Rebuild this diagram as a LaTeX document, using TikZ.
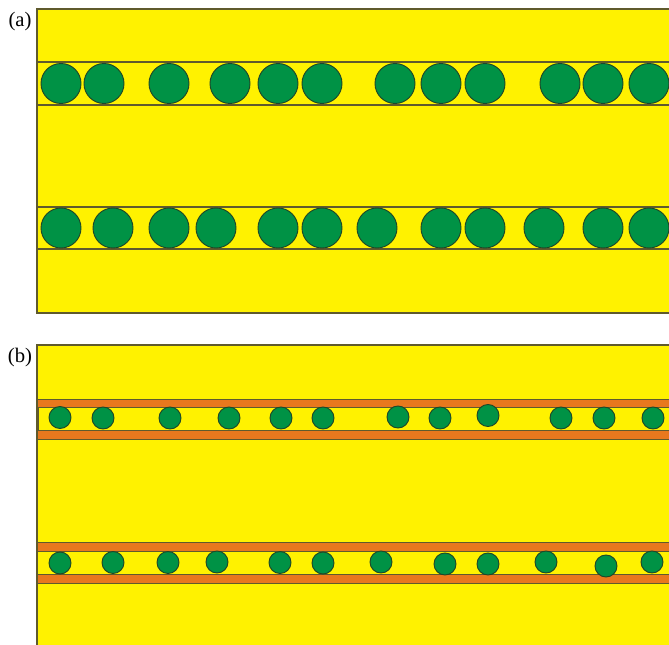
\documentclass[tikz,border=0pt]{standalone}
\usepackage{fontspec}
\setmainfont{Liberation Serif}
\definecolor{ylw}{RGB}{255,242,0}
\definecolor{grn}{RGB}{0,146,69}
\definecolor{org}{RGB}{232,120,30}
\definecolor{edge}{RGB}{95,90,45}
\definecolor{gedge}{RGB}{30,70,40}
\begin{document}
\begin{tikzpicture}[x={(0.75pt,0)},y={(0,-0.75pt)},
  layer/.style={fill=ylw,draw=edge,line width=0.8pt},
  sheet/.style={fill=org,draw=edge,line width=0.7pt},
  inner/.style={fill=ylw,draw=edge,line width=0.7pt},
  bigdot/.style={circle,fill=grn,draw=gedge,line width=0.7pt,minimum size=30pt,inner sep=0pt},
  smalldot/.style={circle,fill=grn,draw=gedge,line width=0.7pt,minimum size=16.5pt,inner sep=0pt},
  lbl/.style={font=\fontsize{15.5}{18}\selectfont,inner sep=0pt}]
\useasboundingbox (0,0) rectangle (669,645);
\clip (0,0) rectangle (669,645);
% panel (a)
\node[lbl] (la) at (20,22) {(a)};
\draw[layer] (37,9) rectangle (675,313);
\draw[edge,line width=0.8pt] (37,62) -- (675,62);
\draw[edge,line width=0.8pt] (37,105) -- (675,105);
\draw[edge,line width=0.8pt] (37,207) -- (675,207);
\draw[edge,line width=0.8pt] (37,249) -- (675,249);
\foreach \x [count=\i] in {61,104,169,230,278,322,395,441,485,560,603,649}
  \node[bigdot] (at\i) at (\x,83.5) {};
\foreach \x [count=\i] in {61,113,169,216,278,322,377,441,485,544,603,649}
  \node[bigdot] (ab\i) at (\x,228) {};
% panel (b)
\node[lbl] (lb) at (20,358) {(b)};
\draw[layer] (37,345) rectangle (675,650);
\draw[sheet] (37,399) rectangle (675,407);
\draw[inner] (38.5,407) rectangle (675,430);
\draw[sheet] (37,430) rectangle (675,439);
\draw[sheet] (37,542) rectangle (675,551);
\draw[inner] (37,551) rectangle (675,574);
\draw[sheet] (37,574) rectangle (675,583);
\foreach \x/\y [count=\i] in {60/417.5,103/418,170/418,229/418,281/418,323/418,398/417,440/418,488/415.5,561/418,604/418,653/418}
  \node[smalldot] (bt\i) at (\x,\y) {};
\foreach \x/\y [count=\i] in {60/563,113/562.5,168/562.5,217/562,280/562.5,323/563,381/562,445/564,488/564,546/562,606/566,652/562}
  \node[smalldot] (bb\i) at (\x,\y) {};
\end{tikzpicture}
\end{document}
